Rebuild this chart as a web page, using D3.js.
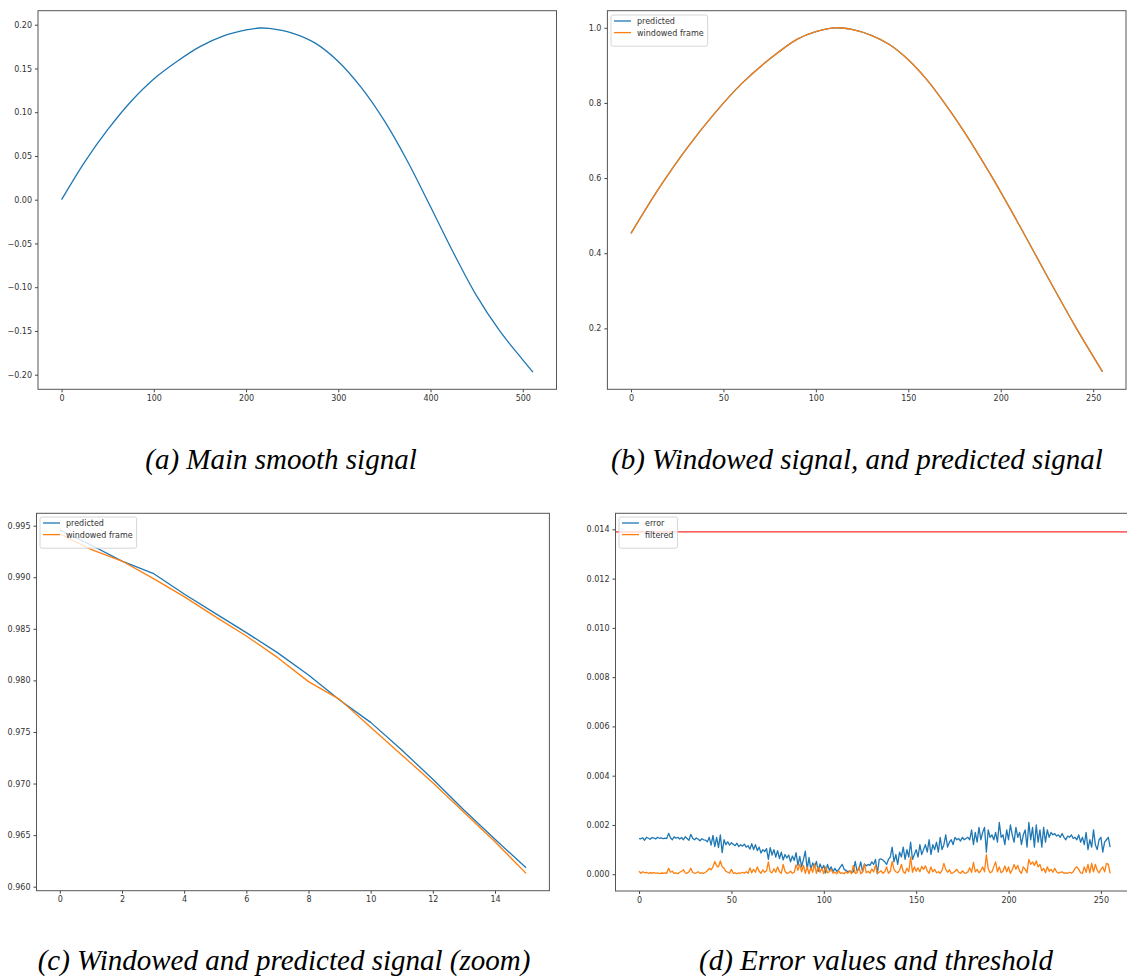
<!DOCTYPE html>
<html>
<head>
<meta charset="utf-8">
<script src="https://cdn.jsdelivr.net/npm/d3@7"></script>
<style>
  body { margin: 0; background: #fff; }
  .tick text { font-family: "DejaVu Sans", sans-serif; font-size: 8px; fill: #333; }
  .legend text { font-family: "DejaVu Sans", sans-serif; font-size: 8px; fill: #333; }
  .caption { font-family: "Liberation Serif", "Times New Roman", serif; font-style: italic; font-size: 29px; fill: #000; }
</style>
</head>
<body>
<svg id="fig"></svg>
<script>

// ---- data ----

// (a) main smooth signal
var mainX = [0, 25, 50, 75, 100, 125, 150, 175, 200, 215, 225, 250, 275, 300, 325, 350, 375, 400, 425, 450, 475, 500, 511];
var mainY = [0.000, 0.043, 0.080, 0.112, 0.138, 0.158, 0.175, 0.187, 0.194, 0.1962, 0.1957, 0.1905, 0.179, 0.158, 0.128, 0.090, 0.044, -0.008, -0.061, -0.110, -0.150, -0.183, -0.197];

// (b) windowed frame and prediction (they overlap)
var winX = [0, 15, 30, 45, 60, 75, 90, 100, 111, 120, 130, 140, 150, 160, 170, 180, 195, 210, 225, 240, 255];
var winY = [0.453, 0.572, 0.678, 0.771, 0.852, 0.917, 0.970, 0.990, 1.000, 0.995, 0.980, 0.955, 0.915, 0.862, 0.797, 0.725, 0.605, 0.475, 0.340, 0.208, 0.085];
var predY = [0.453, 0.572, 0.678, 0.771, 0.852, 0.917, 0.970, 0.990, 1.000, 0.995, 0.980, 0.955, 0.915, 0.862, 0.797, 0.725, 0.605, 0.475, 0.340, 0.208, 0.085];

// (c) zoom on the first 16 samples
var zoomX = [0, 1, 2, 3, 4, 5, 6, 7, 8, 9, 10, 11, 12, 13, 14, 15];
var zoomPred = [0.99458, 0.99313, 0.99157, 0.99038, 0.98837, 0.98650, 0.98463, 0.98269, 0.98052, 0.97810, 0.97593, 0.97325, 0.97041, 0.96743, 0.96459, 0.96184];
var zoomWin  = [0.99420, 0.99271, 0.99157, 0.98989, 0.98812, 0.98618, 0.98430, 0.98223, 0.97988, 0.97816, 0.97545, 0.97277, 0.97008, 0.96721, 0.96436, 0.96129];

// (d) error values, filtered values and threshold
var errorVals = [
  0.00145,0.00144,0.00148,0.00138,0.00150,0.00146,0.00142,0.00149,0.00147,0.00143,0.00150,0.00146,0.00148,0.00144,0.00147,0.00145,
  0.00166,0.00148,0.00140,0.00152,0.00146,0.00150,0.00143,0.00149,0.00140,0.00152,0.00145,0.00138,0.00162,0.00146,0.00140,0.00147,
  0.00142,0.00136,0.00144,0.00140,0.00138,0.00132,0.00150,0.00118,0.00158,0.00112,0.00150,0.00108,0.00160,0.00088,0.00140,0.00120,
  0.00132,0.00118,0.00128,0.00122,0.00116,0.00126,0.00112,0.00120,0.00114,0.00122,0.00110,0.00116,0.00102,0.00124,0.00100,0.00120,
  0.00096,0.00110,0.00086,0.00100,0.00092,0.00104,0.00060,0.00108,0.00078,0.00100,0.00070,0.00096,0.00064,0.00090,0.00058,0.00080,
  0.00066,0.00078,0.00050,0.00074,0.00056,0.00088,0.00036,0.00072,0.00030,0.00060,0.00094,0.00020,0.00068,0.00018,0.00046,0.00030,
  0.00052,0.00012,0.00042,0.00020,0.00036,0.00006,0.00040,0.00016,0.00030,0.00010,0.00024,0.00012,0.00018,0.00030,0.00040,0.00020,
  0.00016,0.00010,0.00014,0.00008,0.00010,0.00052,0.00014,0.00020,0.00050,0.00010,0.00042,0.00034,0.00040,0.00036,0.00050,0.00040,
  0.00060,0.00002,0.00060,0.00062,0.00058,0.00050,0.00040,0.00060,0.00070,0.00110,0.00050,0.00080,0.00040,0.00090,0.00070,0.00110,
  0.00060,0.00100,0.00070,0.00130,0.00060,0.00080,0.00100,0.00070,0.00120,0.00080,0.00100,0.00120,0.00090,0.00140,0.00080,0.00120,
  0.00100,0.00130,0.00090,0.00150,0.00100,0.00120,0.00160,0.00110,0.00130,0.00140,0.00120,0.00150,0.00140,0.00145,0.00135,0.00150,
  0.00140,0.00145,0.00150,0.00140,0.00180,0.00120,0.00170,0.00130,0.00190,0.00140,0.00170,0.00190,0.00090,0.00180,0.00150,0.00160,
  0.00140,0.00170,0.00130,0.00210,0.00150,0.00160,0.00120,0.00180,0.00140,0.00200,0.00160,0.00130,0.00190,0.00150,0.00170,0.00120,
  0.00160,0.00180,0.00110,0.00210,0.00140,0.00190,0.00110,0.00200,0.00130,0.00180,0.00110,0.00190,0.00130,0.00180,0.00150,0.00170,
  0.00160,0.00165,0.00155,0.00160,0.00150,0.00165,0.00150,0.00140,0.00155,0.00150,0.00160,0.00145,0.00150,0.00140,0.00160,0.00130,
  0.00150,0.00120,0.00170,0.00100,0.00140,0.00110,0.00180,0.00120,0.00100,0.00140,0.00150,0.00090,0.00130,0.00140,0.00150,0.00110
];
var filteredVals = [
  0.00012,0.00004,0.00010,0.00006,0.00008,0.00004,0.00006,0.00005,0.00007,0.00004,0.00006,0.00003,0.00005,0.00004,0.00006,0.00004,
  0.00024,0.00008,0.00012,0.00004,0.00006,0.00002,0.00008,0.00012,0.00018,0.00006,0.00004,0.00010,0.00024,0.00008,0.00004,0.00006,
  0.00010,0.00004,0.00006,0.00004,0.00008,0.00014,0.00024,0.00018,0.00030,0.00052,0.00034,0.00030,0.00054,0.00030,0.00024,0.00012,
  0.00008,0.00004,0.00020,0.00004,0.00006,0.00002,0.00006,0.00004,0.00008,0.00004,0.00010,0.00004,0.00026,0.00006,0.00020,0.00008,
  0.00030,0.00012,0.00004,0.00018,0.00008,0.00014,0.00050,0.00010,0.00006,0.00022,0.00008,0.00030,0.00010,0.00004,0.00040,0.00012,
  0.00004,0.00006,0.00012,0.00004,0.00008,0.00038,0.00016,0.00040,0.00010,0.00036,0.00004,0.00030,0.00002,0.00026,0.00008,0.00042,
  0.00004,0.00030,0.00008,0.00024,0.00002,0.00030,0.00006,0.00010,0.00020,0.00004,0.00008,0.00002,0.00014,0.00004,0.00006,0.00002,
  0.00010,0.00004,0.00014,0.00002,0.00036,0.00004,0.00006,0.00030,0.00002,0.00010,0.00040,0.00006,0.00012,0.00004,0.00022,0.00010,
  0.00036,0.00004,0.00008,0.00014,0.00004,0.00010,0.00030,0.00004,0.00012,0.00052,0.00020,0.00010,0.00006,0.00016,0.00040,0.00010,
  0.00004,0.00024,0.00010,0.00070,0.00008,0.00030,0.00012,0.00026,0.00010,0.00032,0.00020,0.00034,0.00014,0.00004,0.00030,0.00010,
  0.00020,0.00006,0.00010,0.00004,0.00016,0.00044,0.00020,0.00008,0.00018,0.00004,0.00006,0.00012,0.00020,0.00008,0.00004,0.00014,
  0.00006,0.00004,0.00010,0.00026,0.00008,0.00048,0.00010,0.00020,0.00006,0.00014,0.00030,0.00010,0.00080,0.00022,0.00006,0.00010,
  0.00030,0.00050,0.00010,0.00030,0.00006,0.00012,0.00034,0.00010,0.00030,0.00004,0.00018,0.00040,0.00020,0.00036,0.00012,0.00004,
  0.00030,0.00020,0.00006,0.00060,0.00040,0.00050,0.00036,0.00054,0.00030,0.00040,0.00014,0.00024,0.00006,0.00030,0.00012,0.00020,
  0.00008,0.00024,0.00010,0.00004,0.00008,0.00010,0.00004,0.00006,0.00004,0.00008,0.00004,0.00010,0.00024,0.00030,0.00020,0.00006,
  0.00004,0.00030,0.00008,0.00040,0.00006,0.00044,0.00010,0.00040,0.00016,0.00006,0.00020,0.00030,0.00010,0.00044,0.00040,0.00004
];
var threshold = 0.0139;

// tick labels
var ticksA = { x: [0, 100, 200, 300, 400, 500], y: [-0.20, -0.15, -0.10, -0.05, 0.00, 0.05, 0.10, 0.15, 0.20] };
var ticksB = { x: [0, 50, 100, 150, 200, 250], y: [0.2, 0.4, 0.6, 0.8, 1.0] };
var ticksC = { x: [0, 2, 4, 6, 8, 10, 12, 14], y: [0.960, 0.965, 0.970, 0.975, 0.980, 0.985, 0.990, 0.995] };
var ticksD = { x: [0, 50, 100, 150, 200, 250], y: [0.000, 0.002, 0.004, 0.006, 0.008, 0.010, 0.012, 0.014] };

var captions = ["(a) Main smooth signal", "(b) Windowed signal, and predicted signal",
                "(c) Windowed and predicted signal (zoom)", "(d) Error values and threshold"];

var blue = "#1f77b4", orange = "#ff7f0e", red = "#ff3030";

// ---- figure ----
var W = 1127, H = 978;
var svg = d3.select("#fig").attr("width", W).attr("height", H);
svg.append("rect").attr("width", W).attr("height", H).attr("fill", "#fff");

// one matplotlib-like axes box
function panel(box, xDom, yDom, ticks, fmt) {
  var g = svg.append("g");
  var x = d3.scaleLinear().domain(xDom).range([box.left, box.right]);
  var y = d3.scaleLinear().domain(yDom).range([box.bottom, box.top]);

  g.append("g")
    .attr("transform", "translate(0," + box.bottom + ")")
    .call(d3.axisBottom(x).tickValues(ticks.x).tickSize(3).tickPadding(3).tickFormat(d3.format("d")))
    .call(function(a) { a.select(".domain").remove(); a.selectAll("line").attr("stroke", "#444"); });

  g.append("g")
    .attr("transform", "translate(" + box.left + ",0)")
    .call(d3.axisLeft(y).tickValues(ticks.y).tickSize(3).tickPadding(3).tickFormat(d3.format(fmt)))
    .call(function(a) { a.select(".domain").remove(); a.selectAll("line").attr("stroke", "#444"); });

  var id = "clip" + Math.round(box.left) + "_" + Math.round(box.top);
  svg.append("clipPath").attr("id", id).append("rect")
    .attr("x", box.left).attr("y", box.top)
    .attr("width", box.right - box.left).attr("height", box.bottom - box.top);
  var plot = g.append("g").attr("clip-path", "url(#" + id + ")");

  g.append("rect")
    .attr("x", box.left).attr("y", box.top)
    .attr("width", box.right - box.left).attr("height", box.bottom - box.top)
    .attr("fill", "none").attr("stroke", "#555").attr("stroke-width", 1);

  return { g: g, plot: plot, x: x, y: y };
}

function drawLine(p, xs, ys, color, curve) {
  p.plot.append("path")
    .datum(xs.map(function(d, i) { return [d, ys[i]]; }))
    .attr("fill", "none")
    .attr("stroke", color)
    .attr("stroke-width", 1.3)
    .attr("stroke-linejoin", "round")
    .attr("d", d3.line()
      .x(function(d) { return p.x(d[0]); })
      .y(function(d) { return p.y(d[1]); })
      .curve(curve || d3.curveLinear));
}

function legend(p, lx, ly, labels, colors) {
  var lg = p.g.append("g").attr("class", "legend");
  var bg = lg.append("rect")
    .attr("x", lx).attr("y", ly).attr("rx", 2)
    .attr("fill", "#fff").attr("fill-opacity", 0.8)
    .attr("stroke", "#ccc").attr("stroke-width", 0.8);
  var maxW = 0;
  labels.forEach(function(t, i) {
    var cy = ly + 6 + i * 11.6;
    lg.append("line")
      .attr("x1", lx + 3).attr("x2", lx + 20)
      .attr("y1", cy).attr("y2", cy)
      .attr("stroke", colors[i]).attr("stroke-width", 1.3);
    var tx = lg.append("text").attr("x", lx + 26).attr("y", cy + 3).text(t);
    maxW = Math.max(maxW, tx.node().getComputedTextLength());
  });
  bg.attr("width", 26 + maxW + 4).attr("height", 6 + labels.length * 11.6 + 2);
}

var smooth = d3.curveCatmullRom.alpha(0.5);

// (a)
var pa = panel({ left: 38, top: 10.7, right: 556.5, bottom: 389.3 }, [-25.55, 536.55], [-0.2167, 0.2160], ticksA, ".2f");
drawLine(pa, mainX, mainY, blue, smooth);

// (b)
var pb = panel({ left: 607.4, top: 10.7, right: 1126, bottom: 389.3 }, [-12.75, 267.75], [0.0378, 1.0455], ticksB, ".1f");
drawLine(pb, winX, predY, blue, smooth);
drawLine(pb, winX, winY, orange, smooth);
legend(pb, 611, 15, ["predicted", "windowed frame"], [blue, orange]);

// (c)
var pc = panel({ left: 36.5, top: 513.3, right: 549.4, bottom: 890.7 }, [-0.75, 15.75], [0.95961, 0.99620], ticksC, ".3f");
drawLine(pc, zoomX, zoomPred, blue);
drawLine(pc, zoomX, zoomWin, orange);
legend(pc, 40, 517, ["predicted", "windowed frame"], [blue, orange]);

// (d)
var idx = d3.range(errorVals.length);
var pd = panel({ left: 615.5, top: 513.3, right: 1133.7, bottom: 891 }, [-12.75, 267.75], [-0.00068, 0.01465], ticksD, ".3f");
drawLine(pd, idx, errorVals, blue);
drawLine(pd, idx, filteredVals, orange);
pd.plot.append("line")
  .attr("x1", pd.x.range()[0]).attr("x2", pd.x.range()[1])
  .attr("y1", pd.y(threshold)).attr("y2", pd.y(threshold))
  .attr("stroke", red).attr("stroke-width", 1.3);
legend(pd, 619, 517, ["error", "filtered"], [blue, orange]);

// captions
var capPos = [[281, 469], [857, 469], [284, 970], [876, 970]];
captions.forEach(function(t, i) {
  svg.append("text").attr("class", "caption")
    .attr("x", capPos[i][0]).attr("y", capPos[i][1])
    .attr("text-anchor", "middle").text(t);
});
</script>
</body>
</html>
